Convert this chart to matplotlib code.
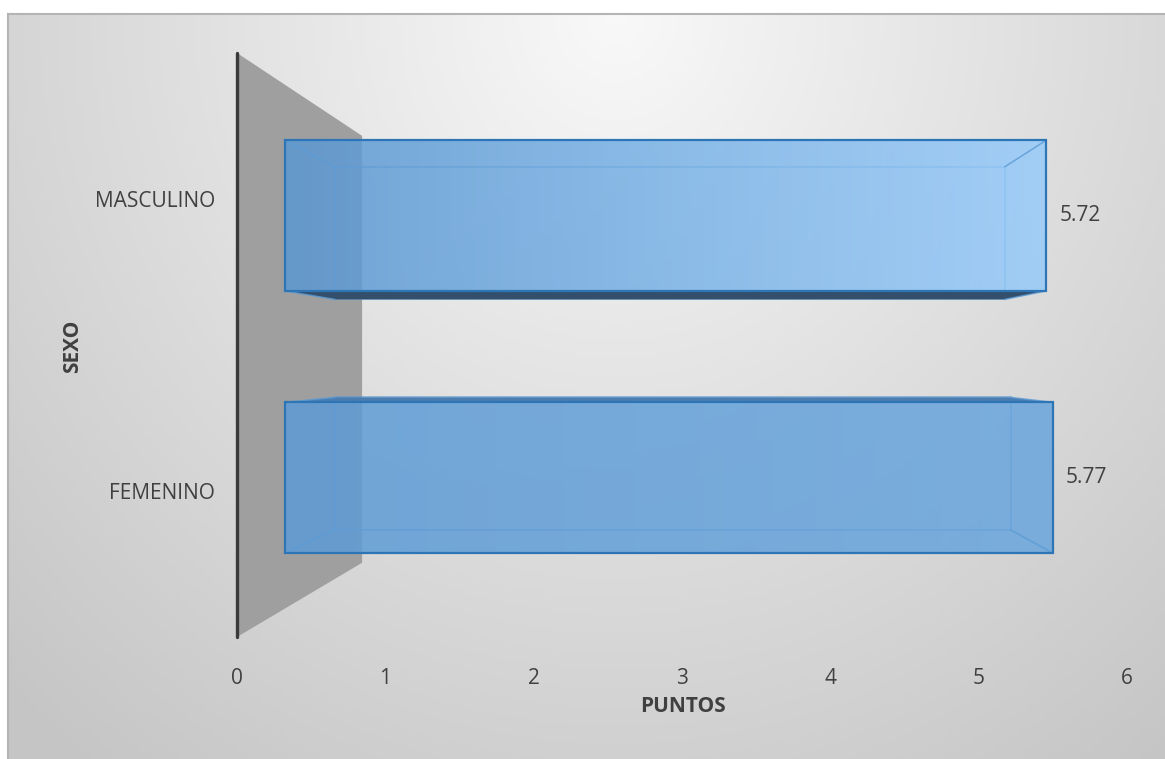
"""3D-style horizontal bar chart: puntos por sexo."""

import numpy as np
import matplotlib
matplotlib.use("Agg")
import matplotlib.pyplot as plt
from matplotlib.transforms import Affine2D
from matplotlib.colors import LinearSegmentedColormap

plt.rcParams["font.family"] = ["Open Sans", "DejaVu Sans"]

# data
categories = ["FEMENINO", "MASCULINO"]
values = [5.77, 5.72]
labels = ["5.77", "5.72"]
x_ticks = [0, 1, 2, 3, 4, 5, 6]

# styling
TXT = "#404040"
front_left = ["#5d9bd6", "#5b98d2"]
front_right = ["#6aa6dd", "#97cbfa"]
EDGE = "#2e75b6"
INNER = "#5b9bd5"

W, H = 1165, 759
fig = plt.figure(figsize=(W / 100, H / 100), dpi=100)
fig.patch.set_facecolor("white")

# chart area background (soft radial gradient), runs off the right and bottom edges
bg = fig.add_axes([8 / W, -0.01, 1.01 - 8 / W, (H - 14) / H + 0.01])
gx, gy = np.meshgrid(np.linspace(0, 1, 300), np.linspace(0, 1, 200))
r = np.sqrt(((gx - 0.52) / 0.75) ** 2 + ((gy - 0.0) / 1.25) ** 2)
shade = 0.975 - 0.2 * np.clip(r, 0, 1)
bg.imshow(np.dstack([shade] * 3), aspect="auto", extent=(0, 1, 1, 0))
bg.set_xlim(0, 1)
bg.set_ylim(1, 0)
bg.set_xticks([])
bg.set_yticks([])
for side in ["right", "bottom"]:
    bg.spines[side].set_visible(False)
for side in ["top", "left"]:
    bg.spines[side].set_color("#b4b4b4")
    bg.spines[side].set_linewidth(1.5)

# plot area (front plane)
x0, x1, y_top, y_bot = 237, 1127, 53, 637
ax = fig.add_axes([x0 / W, (H - y_bot) / H, (x1 - x0) / W, (y_bot - y_top) / H])
ax.patch.set_visible(False)
ax.set_xlim(0, 6)
ax.set_ylim(-0.5, 1.5)
for s in ax.spines.values():
    s.set_visible(False)

# perspective: everything shrinks toward a vanishing point with depth
VX, VY = 3.135, 0.445
S_FRONT, S_BACK, S_WALL = 0.897, 0.79, 0.731
BAR_H = 0.575


def depth(s):
    return Affine2D().translate(-VX, -VY).scale(s).translate(VX, VY) + ax.transData


def proj(x, y, s):
    return VX + (np.asarray(x) - VX) * s, VY + (np.asarray(y) - VY) * s


ypos = np.arange(len(categories))
ylo, yhi = ax.get_ylim()

# side wall at x = 0
wx, wy = proj([0, 0], [yhi, ylo], S_WALL)
ax.fill([0, wx[0], wx[1], 0], [yhi, wy[0], wy[1], ylo], color="#9f9f9f", zorder=1, lw=0)
ax.plot([0, 0], [ylo, yhi], color="#3a3a3a", lw=2.4, solid_capstyle="round", zorder=2,
        clip_on=False)

for i, (yc, v) in enumerate(zip(ypos, values)):
    b, t = yc - BAR_H / 2, yc + BAR_H / 2

    # back face seen through the box
    ax.barh(yc, v, height=BAR_H, transform=depth(S_BACK), fill=False,
            edgecolor=INNER, lw=1.1, alpha=0.8, zorder=3)

    # visible horizontal face (bottom when above vp, top when below)
    edge_y = b if b > VY else t
    fx, fy = proj([0, v], [edge_y, edge_y], S_FRONT)
    bx, by = proj([0, v], [edge_y, edge_y], S_BACK)
    face_col = "#344f6c" if b > VY else "#4b7db0"
    ax.fill([fx[0], fx[1], bx[1], bx[0]], [fy[0], fy[1], by[1], by[0]],
            color=face_col, lw=0, zorder=3)

    # front face with gradient
    front = ax.barh(yc, v, height=BAR_H, transform=depth(S_FRONT), color="none",
                    edgecolor=EDGE, lw=1.6, zorder=6)[0]
    cmap = LinearSegmentedColormap.from_list(f"g{i}", [front_left[i], front_right[i]])
    grad = np.linspace(0, 1, 256).reshape(1, -1)
    im = ax.imshow(grad, cmap=cmap, aspect="auto", extent=(0, v, b, t),
                   transform=depth(S_FRONT), alpha=0.85, zorder=4, interpolation="bilinear")
    im.set_clip_path(front)

    # edges joining front and back corners
    for cx in (0, v):
        for cy in (b, t):
            ex, ey = proj([cx, cx], [cy, cy], np.array([S_FRONT, S_BACK]))
            ax.plot(ex, ey, color=INNER, lw=1.1, alpha=0.8, zorder=5)

    ax.annotate(labels[i], xy=(v, yc), xycoords=depth(S_FRONT), xytext=(9.5, 0),
                textcoords="offset points", va="center", ha="left", fontsize=15, color=TXT)

ax.set_xticks(x_ticks)
ax.set_yticks(ypos)
ax.set_yticklabels(categories)
ax.tick_params(axis="x", length=0, pad=22, labelsize=15, labelcolor=TXT)
ax.tick_params(axis="y", length=0, pad=16, labelsize=15, labelcolor=TXT)
ax.set_ylim(ylo, yhi)
ax.set_xlim(0, 6)

fig.text(683 / W, 1 - 707 / H, "PUNTOS", ha="center", va="center", fontsize=15,
         fontweight="bold", color=TXT)
fig.text(73 / W, 1 - 346 / H, "SEXO", ha="center", va="center", fontsize=15,
         fontweight="bold", color=TXT, rotation=90)

fig.savefig("out.png", dpi=100)
